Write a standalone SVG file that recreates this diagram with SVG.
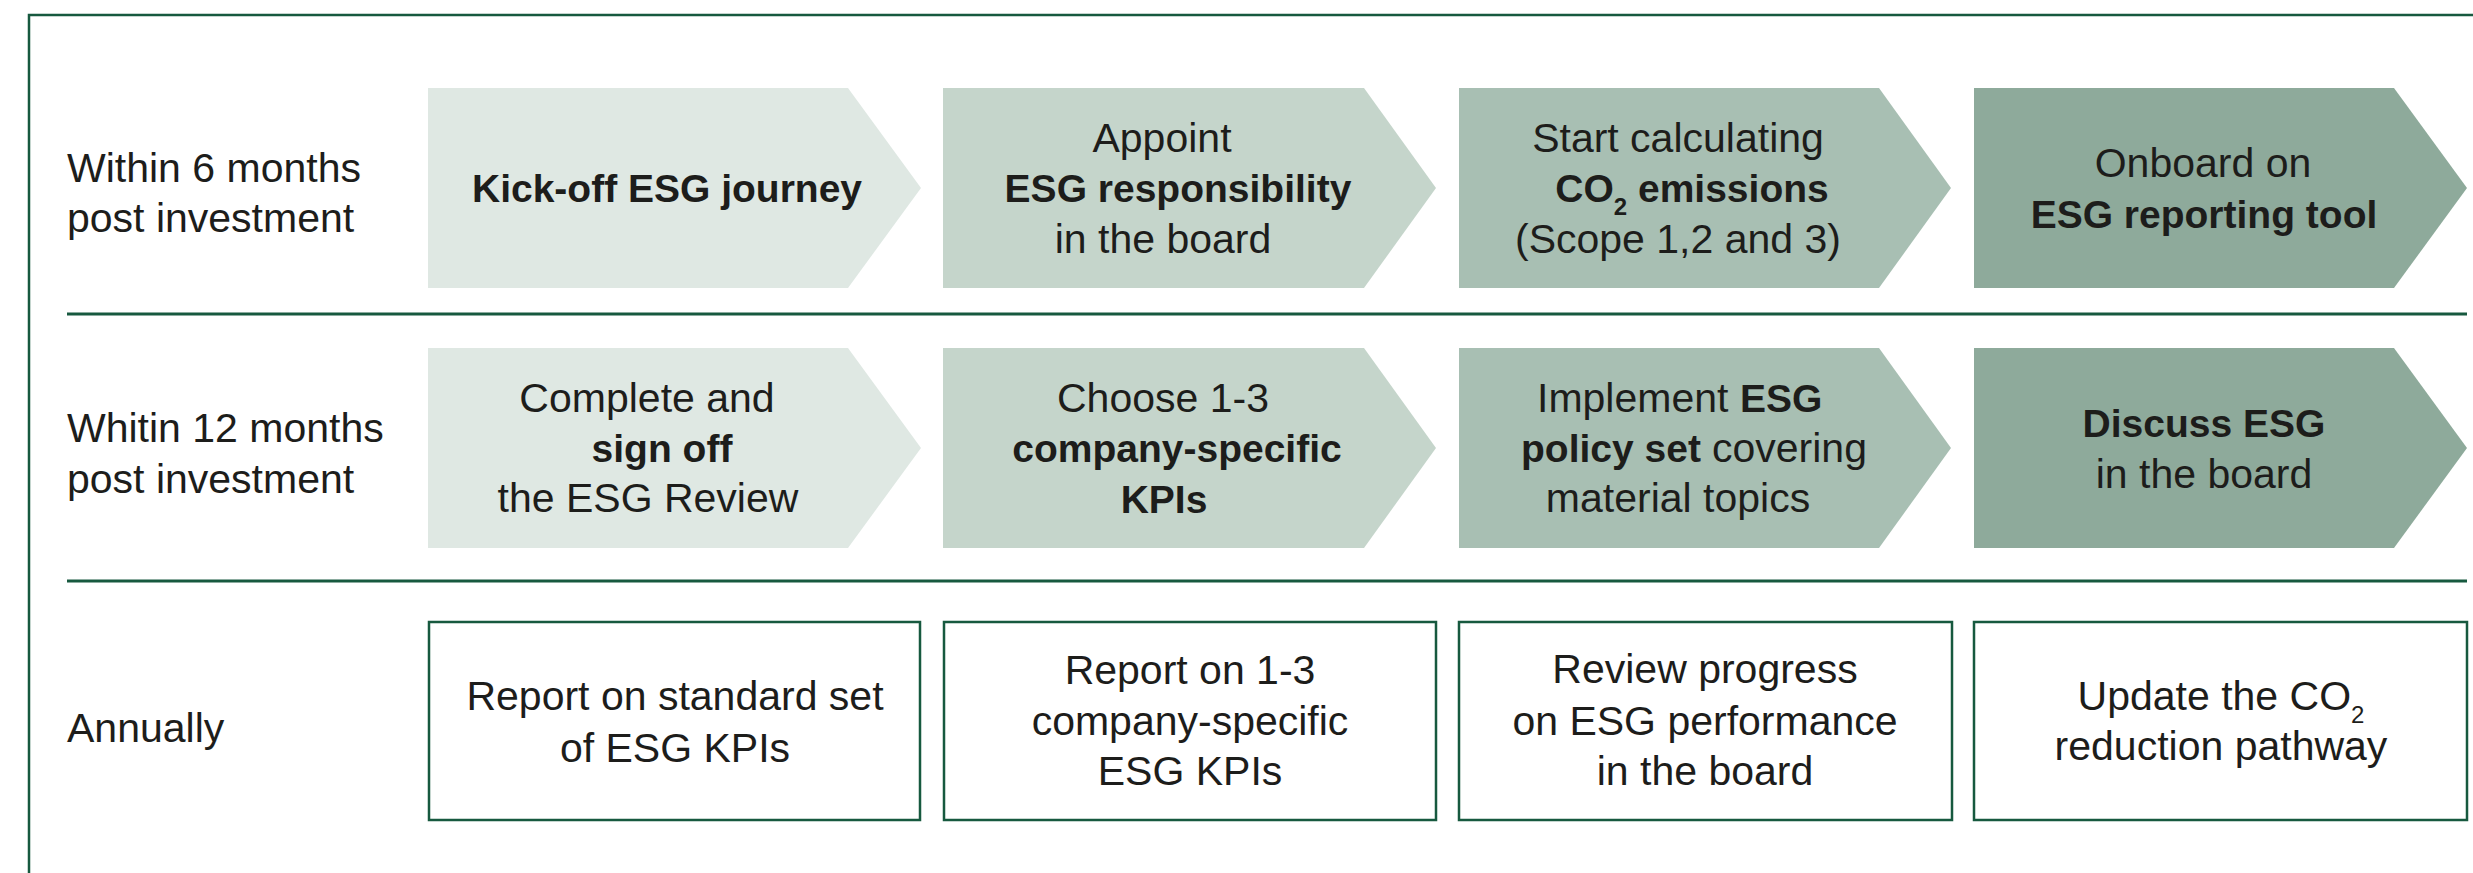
<svg xmlns="http://www.w3.org/2000/svg" width="2473" height="873" viewBox="0 0 2473 873">
  <style>
    text { font-family: "Liberation Sans", Arial, sans-serif; fill: #1d1d1b; font-size: 41px; }
    .c { text-anchor: middle; }
    .b { font-weight: bold; font-size: 39px; }
    .sub { font-size: 24px; }
    .frame { fill: none; stroke: #17593f; stroke-width: 2.5; }
    .rule { stroke: #17593f; stroke-width: 3; }
    .box { fill: #ffffff; stroke: #17593f; stroke-width: 2.5; }
    .s1 { fill: #dfe8e3; }
    .s2 { fill: #c5d5cb; }
    .s3 { fill: #a8bfb3; }
    .s4 { fill: #8eaa9b; }
  </style>

  <!-- outer frame, open to the right and bottom -->
  <rect class="frame" x="29" y="15" width="2500" height="900"/>

  <!-- row separators -->
  <g id="connectors">
    <line class="rule" x1="67" y1="314" x2="2467" y2="314"/>
    <line class="rule" x1="67" y1="581" x2="2467" y2="581"/>
  </g>

  <!-- row labels -->
  <g id="label-6m">
    <text x="67" y="182">Within 6 months</text>
    <text x="67" y="232">post investment</text>
  </g>
  <g id="label-12m">
    <text x="67" y="442">Whitin 12 months</text>
    <text x="67" y="493">post investment</text>
  </g>
  <g id="label-annual">
    <text x="67" y="742">Annually</text>
  </g>

  <!-- row 1: within 6 months -->
  <g id="kickoff">
    <polygon class="s1" points="428,88 848,88 921,188 848,288 428,288"/>
    <text class="c b" x="667" y="202">Kick-off ESG journey</text>
  </g>
  <g id="appoint">
    <polygon class="s2" points="943,88 1364,88 1436,188 1364,288 943,288"/>
    <text class="c" x="1162" y="152">Appoint</text>
    <text class="c b" x="1178" y="202">ESG responsibility</text>
    <text class="c" x="1163" y="253">in the board</text>
  </g>
  <g id="co2-calc">
    <polygon class="s3" points="1459,88 1879,88 1951,188 1879,288 1459,288"/>
    <text class="c" x="1678" y="152">Start calculating</text>
    <text class="c b" x="1692" y="202">CO<tspan class="sub" dy="13">2</tspan><tspan dy="-13"> emissions</tspan></text>
    <text class="c" x="1678" y="253">(Scope 1,2 and 3)</text>
  </g>
  <g id="onboard">
    <polygon class="s4" points="1974,88 2394,88 2467,188 2394,288 1974,288"/>
    <text class="c" x="2203" y="177">Onboard on</text>
    <text class="c b" x="2204" y="228">ESG reporting tool</text>
  </g>

  <!-- row 2: within 12 months -->
  <g id="signoff">
    <polygon class="s1" points="428,348 848,348 921,448 848,548 428,548"/>
    <text class="c" x="647" y="412">Complete and</text>
    <text class="c b" x="662" y="462">sign off</text>
    <text class="c" x="648" y="512">the ESG Review</text>
  </g>
  <g id="choose-kpis">
    <polygon class="s2" points="943,348 1364,348 1436,448 1364,548 943,548"/>
    <text class="c" x="1163" y="412">Choose 1-3</text>
    <text class="c b" x="1177" y="462">company-specific</text>
    <text class="c b" x="1164" y="513">KPIs</text>
  </g>
  <g id="policy-set">
    <polygon class="s3" points="1459,348 1879,348 1951,448 1879,548 1459,548"/>
    <text x="1537" y="412">Implement</text>
    <text class="b" x="1740" y="412">ESG</text>
    <text class="b" x="1521" y="462">policy set</text>
    <text x="1712" y="462">covering</text>
    <text class="c" x="1678" y="512">material topics</text>
  </g>
  <g id="discuss">
    <polygon class="s4" points="1974,348 2394,348 2467,448 2394,548 1974,548"/>
    <text class="c b" x="2204" y="437">Discuss ESG</text>
    <text class="c" x="2204" y="488">in the board</text>
  </g>

  <!-- row 3: annually -->
  <g id="report-standard">
    <rect class="box" x="429" y="622" width="491" height="198"/>
    <text class="c" x="675" y="710">Report on standard set</text>
    <text class="c" x="675" y="762">of ESG KPIs</text>
  </g>
  <g id="report-specific">
    <rect class="box" x="944" y="622" width="492" height="198"/>
    <text class="c" x="1190" y="684">Report on 1-3</text>
    <text class="c" x="1190" y="735">company-specific</text>
    <text class="c" x="1190" y="785">ESG KPIs</text>
  </g>
  <g id="review-progress">
    <rect class="box" x="1459" y="622" width="493" height="198"/>
    <text class="c" x="1705" y="683">Review progress</text>
    <text class="c" x="1705" y="735">on ESG performance</text>
    <text class="c" x="1705" y="785">in the board</text>
  </g>
  <g id="update-pathway">
    <rect class="box" x="1974" y="622" width="493" height="198"/>
    <text class="c" x="2221" y="710">Update the CO<tspan class="sub" dy="13">2</tspan></text>
    <text class="c" x="2221" y="760">reduction pathway</text>
  </g>
</svg>
